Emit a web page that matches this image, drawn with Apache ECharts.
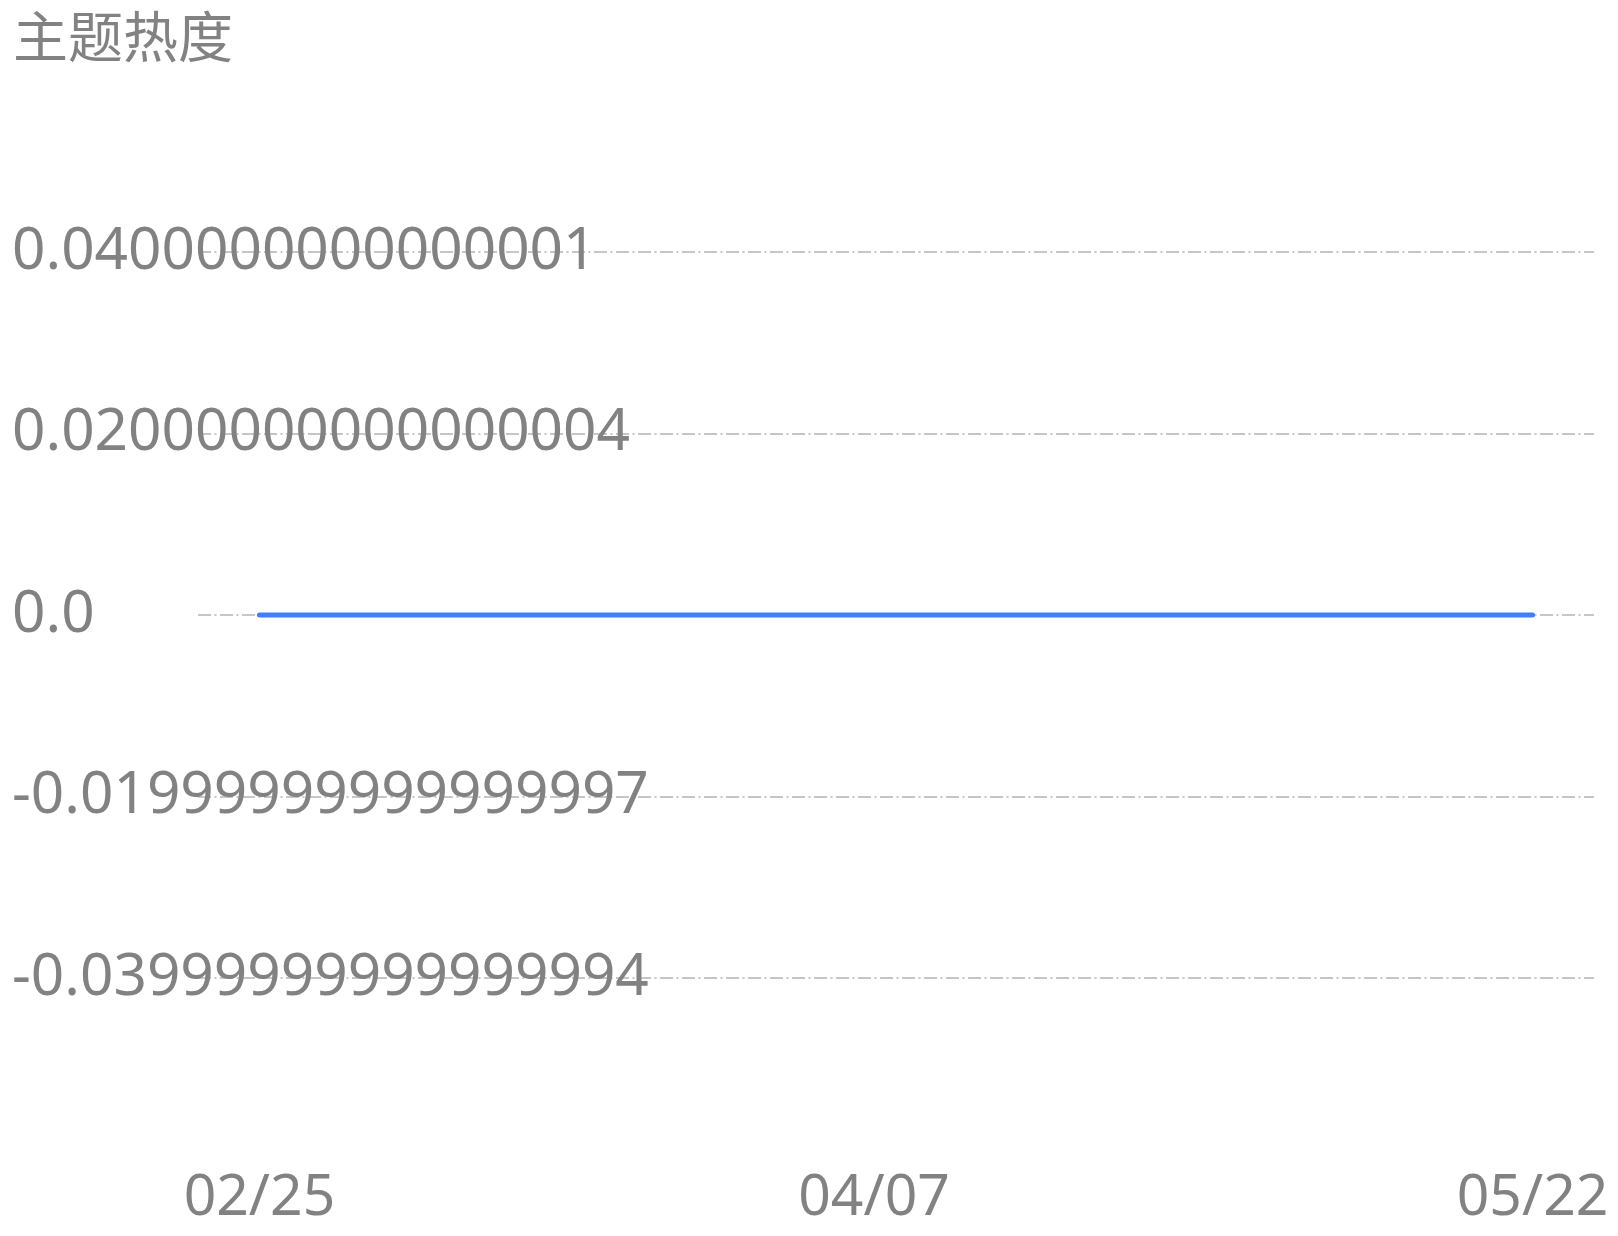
<!DOCTYPE html>
<html>
<head>
<meta charset="utf-8">
<script src="https://cdn.jsdelivr.net/npm/echarts@6/dist/echarts.min.js"></script>
<style>
html,body{margin:0;padding:0;background:#fff;}
#chart{width:1618px;height:1236px;}
</style>
</head>
<body>
<div id="chart"></div>
<script>
// ---- data ----
const dates = ['2024-02-25', '2024-04-07', '2024-05-22'];
const heatValues = [0, 0, 0];
const xLabelDates = ['2024-02-25', '2024-04-07', '2024-05-22'];
const yTickValues = [-0.04, -0.02, 0, 0.02, 0.04];
const yTickLabels = [
  '-0.03' + '9'.repeat(14) + '4',
  '-0.01' + '9'.repeat(14) + '7',
  '0.0',
  '0.02' + '0'.repeat(14) + '4',
  '0.04' + '0'.repeat(13) + '1'
];
const titleText = '主题热度';

// ---- chart ----
const FONT = '"Noto Sans", "Noto Sans CJK SC", sans-serif';
const GRAY = '#828282';
const DAY = 86400000;
const PAD = 4.2 * DAY;
function ts(s) { return Date.UTC(+s.slice(0, 4), +s.slice(5, 7) - 1, +s.slice(8, 10)); }
function p2(n) { return (n < 10 ? '0' : '') + n; }

const chart = echarts.init(document.getElementById('chart'), null, { renderer: 'canvas' });
chart.setOption({
  backgroundColor: '#ffffff',
  animation: false,
  title: {
    text: titleText,
    left: 13,
    top: 14,
    padding: 0,
    textStyle: { fontFamily: FONT, fontSize: 55, fontWeight: 'normal', color: GRAY }
  },
  grid: { left: 198, right: 24, top: 252, bottom: 258, containLabel: false },
  xAxis: {
    type: 'value',
    scale: true,
    min: function (v) { return v.min - PAD; },
    max: function (v) { return v.max + PAD; },
    axisLine: { show: false },
    axisTick: { show: false },
    splitLine: { show: false },
    axisLabel: {
      customValues: xLabelDates.map(ts),
      margin: 192,
      fontFamily: FONT,
      fontSize: 57,
      color: GRAY,
      hideOverlap: false,
      formatter: function (v) {
        const d = new Date(v);
        return p2(d.getUTCMonth() + 1) + '/' + p2(d.getUTCDate());
      }
    }
  },
  yAxis: {
    type: 'value',
    min: -0.04,
    max: 0.04,
    interval: 0.02,
    axisLine: { show: false },
    axisTick: { show: false },
    axisLabel: {
      align: 'left',
      margin: 186,
      padding: [12, 0, 0, 0],
      fontFamily: FONT,
      fontSize: 58.5,
      color: GRAY,
      formatter: function (v) {
        let best = 0, bd = Infinity;
        yTickValues.forEach(function (t, i) {
          const d = Math.abs(t - v);
          if (d < bd) { bd = d; best = i; }
        });
        return yTickLabels[best];
      }
    },
    splitLine: {
      show: true,
      lineStyle: { color: '#c6c6c6', width: 2, type: [13, 3.5, 2, 3.5] }
    }
  },
  series: [{
    type: 'line',
    data: dates.map(function (d, i) { return [ts(d), heatValues[i]]; }),
    showSymbol: false,
    symbol: 'none',
    lineStyle: { color: '#3f80ff', width: 5, cap: 'round' },
    itemStyle: { color: '#3f80ff' },
    z: 3
  }]
});
</script>
</body>
</html>
